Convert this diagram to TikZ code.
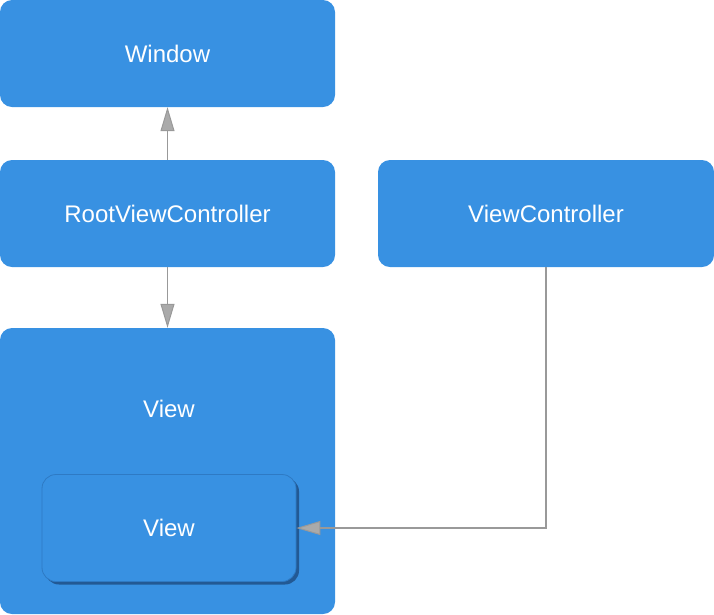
\documentclass[tikz,border=0pt]{standalone}
\usepackage{fontspec}
\setmainfont{Liberation Sans}
\usetikzlibrary{arrows.meta,shadows}
\definecolor{boxblue}{RGB}{56,145,226}
\definecolor{boxedge}{RGB}{46,122,196}
\definecolor{shadowblue}{RGB}{32,84,140}
\definecolor{linegray}{RGB}{153,153,153}
\definecolor{tipgray}{RGB}{170,170,170}
\tikzset{
  box/.style={rectangle, rounded corners=12pt, fill=boxblue, draw=none, text=white,
    font=\fontsize{24}{28}\selectfont, inner sep=0pt},
  innerbox/.style={box, rounded corners=14pt, draw=boxedge, line width=0.8pt,
    drop shadow={shadow xshift=3pt, shadow yshift=-3pt, fill=shadowblue, opacity=0.9}},
  txt/.style={text=white, font=\fontsize{24}{28}\selectfont, inner sep=0pt},
  conn/.style={draw=linegray, line width=1.8pt,
    -{Triangle[length=24pt, width=14pt, fill=tipgray, line width=1pt]}},
}
\begin{document}
\begin{tikzpicture}[x=1pt, y=-1pt]
\useasboundingbox (0,0) rectangle (714,614);
\node[box, minimum width=335pt, minimum height=107pt] (win) at (167.5,53.5) {\raisebox{-1.5pt}{Window}};
\node[box, minimum width=335pt, minimum height=107pt] (rvc) at (167.5,213.5) {\raisebox{-1.5pt}{RootViewController}};
\node[box, minimum width=336pt, minimum height=107pt] (vc) at (546,213.5) {\raisebox{-1.5pt}{ViewController}};
\node[box, minimum width=335pt, minimum height=286pt] (outer) at (167.5,471) {};
\node[txt] (outertxt) at (169,408.5) {View};
\node[innerbox, minimum width=254pt, minimum height=107pt] (inner) at (169,528) {\raisebox{-1.5pt}{View}};
\draw[conn] (rvc.north) -- (win.south);
\draw[conn] (rvc.south) -- (outer.north);
\draw[conn] (vc.south) |- (inner.east);
\end{tikzpicture}
\end{document}
